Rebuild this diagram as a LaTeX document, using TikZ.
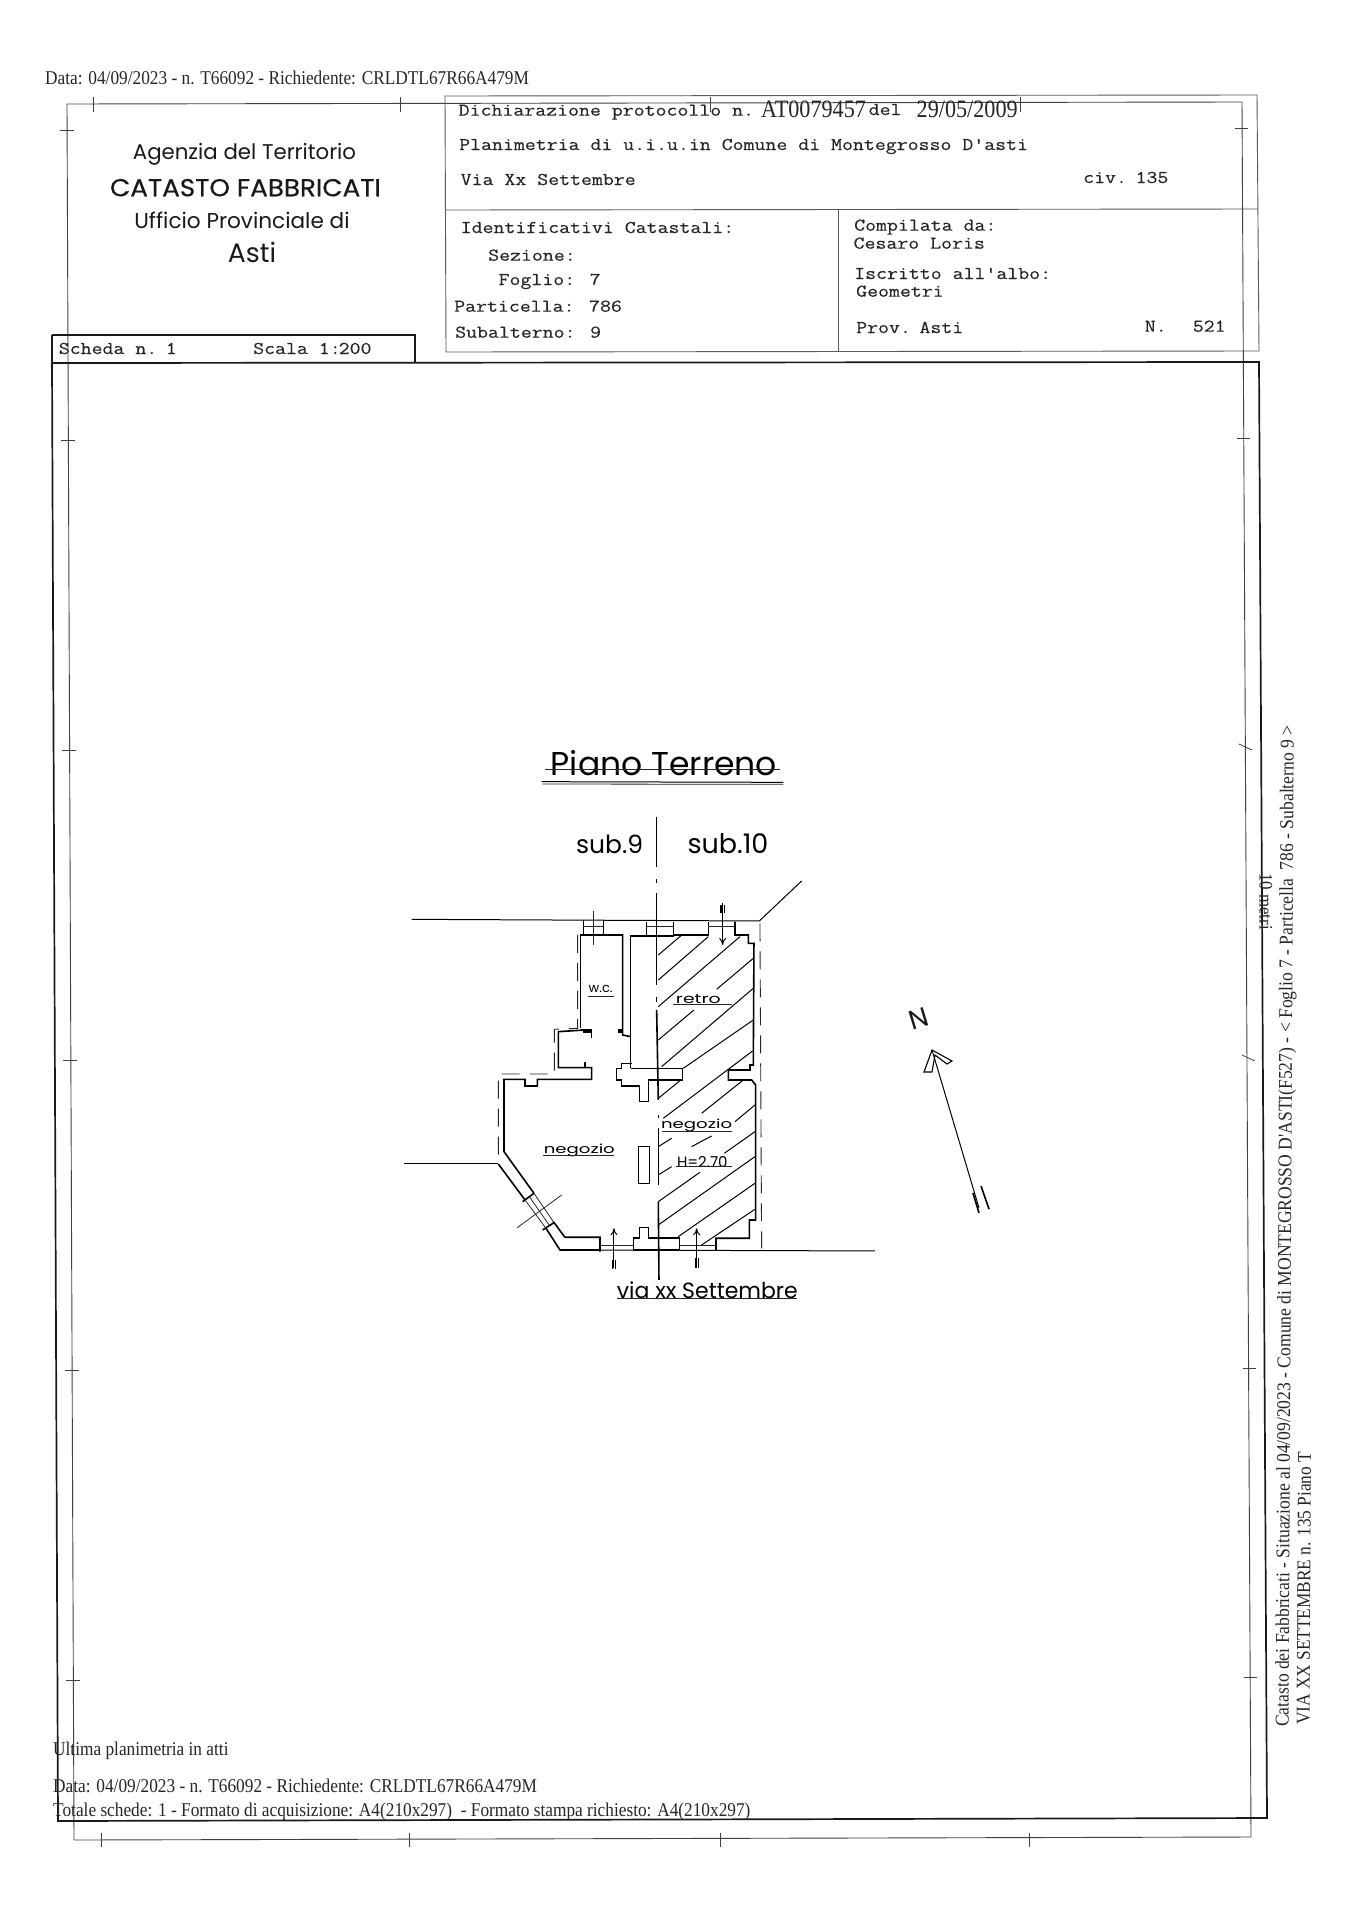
\documentclass[tikz,border=0pt]{standalone}
\usepackage{fontspec}
\usetikzlibrary{arrows.meta}
\newfontfamily\scanserif[FakeStretch=0.887]{Liberation Serif}
\newfontfamily\scanside[FakeStretch=0.9]{Liberation Serif}
\newfontfamily\scanmono[FakeStretch=1.18,FakeBold=0.25]{Latin Modern Mono}
\newfontfamily\scangothic{Poppins}
\newfontfamily\scangothicbold[FakeStretch=1.07,FakeBold=0.5]{Poppins}
\newfontfamily\scanhand{Poppins}
\newfontfamily\scanhandwide[FakeStretch=1.45]{Poppins}
\tikzset{
	sheet/.style={line width=0.9pt, black!75},
	boldframe/.style={line width=1.7pt, black!90},
	headline/.style={line width=0.9pt, black!65},
	sheettick/.style={line width=0.8pt, black!75},
	monotext/.style={anchor=west, inner sep=0pt, text height=10pt, text depth=0pt, font=\scanmono\fontsize{18}{18}\selectfont, black!85},
	serifmain/.style={anchor=west, inner sep=0pt, text height=11pt, text depth=0pt, font=\scanserif\fontsize{19.5}{19.5}\selectfont, black!85},
	gothictext/.style={inner sep=0pt, black!90},
	handtext/.style={inner sep=0pt, black, font=\scanhand\fontsize{15}{15}\selectfont},
	handwide/.style={inner sep=0pt, black, font=\scanhandwide\fontsize{12.5}{12.5}\selectfont},
	wall/.style={line width=1.6pt, black, line join=miter},
	thinwall/.style={line width=0.8pt, black!85},
	doorarrow/.style={line width=1pt, black, arrows=-{To[length=7pt,width=7pt]}},
	hatch/.style={line width=1pt, black},
	boundary/.style={line width=0.9pt, black!85, dash pattern=on 18pt off 10pt},
}
\begin{document}
\begin{tikzpicture}[x=1pt, y=-1pt]
	\useasboundingbox (0,0) rectangle (1358,1920);
	\draw [sheet] (67,104) -- (1242,102) -- (1251,1837) -- (74,1840) -- cycle;
	\draw [boldframe] (52,335) -- (415,335) -- (415,363);
	\draw [boldframe] (52,335) -- (52,363) -- (1259,362) -- (1267,1818) -- (58,1821) -- (52,363);
	\draw [headline] (445,96) -- (1257,95) -- (1259,351) -- (446,352) -- cycle;
	\draw [headline] (445,210) -- (1258,209);
	\draw [headline] (838,209) -- (838,351);
	% ticks of the sheet
	\foreach \px in {93,400,710,1020} \draw [sheettick] (\px,97) -- (\px,112);
	\foreach \px in {101,409,720,1029} \draw [sheettick] (\px,1833) -- (\px,1847);
	\foreach \py/\ox in {130/0,440/1,750/2,1060/3,1370/5,1680/6} \draw [sheettick] (60+\ox,\py) -- (74+\ox,\py);
	\foreach \py/\rx in {128/1235,438/1237,1368/1243,1677/1244} \draw [sheettick] (\rx,\py) -- (\rx+13,\py);
	\foreach \py/\rx in {747/1239,1058/1242} \draw [sheettick] (\rx,\py-3) -- (\rx+13,\py+3);

	\node [serifmain] (datatop) at (45,79) {Data: 04/09/2023 - n. T66092 - Richiedente: CRLDTL67R66A479M};
	\node [gothictext, font=\scangothic\fontsize{21.3}{21.3}\selectfont] (agenzia) at (244.5,154.5) {Agenzia del Territorio};
	\node [gothictext, font=\scangothicbold\fontsize{24.5}{24.5}\selectfont] (catasto) at (245.5,187.7) {CATASTO FABBRICATI};
	\node [gothictext, font=\scangothic\fontsize{21.6}{21.6}\selectfont] (ufficio) at (242,220) {Ufficio Provinciale di};
	\node [gothictext, font=\scangothic\fontsize{26.7}{26.7}\selectfont] (asti) at (252,252) {Asti};

	\node [monotext] (dichiarazione) at (458.5,110.7) {Dichiarazione protocollo n.};
	\node [serifmain, font=\scanserif\fontsize{25}{25}\selectfont] (protocollo) at (761,112) {AT0079457};
	\node [monotext] (del) at (868.5,110) {del};
	\node [serifmain, font=\scanserif\fontsize{25}{25}\selectfont] (datadel) at (916.5,112) {29/05/2009};
	\node [monotext] (planimetria) at (459,145) {Planimetria di u.i.u.in Comune di Montegrosso D'asti};
	\node [monotext] (via) at (460.5,180) {Via Xx Settembre};
	\node [monotext] (civ) at (1083,178) {civ.\hspace{-6pt} 135};
	\node [monotext] (identificativi) at (460.5,228) {Identificativi Catastali:};
	\node [monotext] (sezione) at (488,255.7) {Sezione:};
	\node [monotext] (foglio) at (498.4,280) {Foglio: 7};
	\node [monotext] (particella) at (454,306.7) {Particella: 786};
	\node [monotext] (subalterno) at (455,332.7) {Subalterno: 9};
	\node [monotext] (scheda) at (58.6,349) {Scheda n.\hspace{-6pt} 1};
	\node [monotext] (scala) at (253,349) {Scala 1:\hspace{-2pt}200};
	\node [monotext] (compilata) at (854,225.7) {Compilata da:};
	\node [monotext] (cesaro) at (853.4,243.7) {Cesaro Loris};
	\node [monotext] (iscritto) at (854,274) {Iscritto all'albo:};
	\node [monotext] (geometri) at (856,291.7) {Geometri};
	\node [monotext] (prov) at (856,328) {Prov.\hspace{-6pt} Asti};
	\node [monotext] (numero) at (1144.6,326.7) {N.};
	\node [monotext] (albo) at (1192.6,326.7) {521};

	\node [serifmain] (ultima) at (53,1750) {Ultima planimetria in atti};
	\node [serifmain] (databottom) at (53,1786.7) {Data: 04/09/2023 - n. T66092 - Richiedente: CRLDTL67R66A479M};
	\node [serifmain] (totale) at (53,1810.7) {Totale schede: 1 - Formato di acquisizione: A4(210x297)\ \ - Formato stampa richiesto: A4(210x297)};

	\node [serifmain, anchor=west, rotate=89.7, font=\scanside\fontsize{19.5}{19.5}\selectfont] (catastoside) at (1283,1727) {Catasto dei Fabbricati - Situazione al 04/09/2023 - Comune di MONTEGROSSO D'ASTI(F527) - < Foglio 7 - Particella\ \ 786 - Subalterno 9 >};
	\node [serifmain, anchor=west, rotate=89.7] (viaside) at (1304,1725) {VIA XX SETTEMBRE n. 135 Piano T};
	\node [serifmain, anchor=west, rotate=-90, font=\scanserif\fontsize{19}{19}\selectfont] (metri) at (1265,873) {10 metri};

	% floor plan, in units of a third of a pixel
	\begin{scope}[shift={(390,720)}, x=0.3333pt, y=-0.3333pt]
	\node [handtext, font=\scanhand\fontsize{33}{33}\selectfont] (piano) at (822,128) {Piano Terreno};
	\draw [thinwall] (465,147) -- (1170,147);
	\draw [wall, line width=1pt] (455,185) -- (1180,187);
	\draw [thinwall] (458,192) -- (1180,193);
	\node [handtext, font=\scanhand\fontsize{25}{25}\selectfont] (subnove) at (659,372) {sub.9};
	\node [handtext, font=\scanhand\fontsize{27}{27}\selectfont] (subdieci) at (1014,372) {sub.10};

	% the line between the two units
	\draw [wall] (800,290) -- (800,440);
	\draw [wall] (800,478) -- (800,490);
	\draw [wall] (800,520) -- (800,795);
	\draw [wall] (800,830) -- (800,845);
	\draw [wall] (800,870) -- (805,1140);
	\draw [wall] (805,1185) -- (805,1195);
	\draw [wall] (805,1225) -- (805,1395);
	\draw [wall] (805,1445) -- (807,1680);

	% streets
	\draw [wall, line width=1pt] (65,598) -- (1108,603) -- (1235,483);
	\draw [wall, line width=1pt] (42,1332) -- (325,1332);
	\draw [wall, line width=1pt] (510,1590) -- (1455,1593);

	% left unit
	\draw [wall] (572,925) -- (572,645) -- (580,645) -- (580,600);
	\draw [wall] (580,645) -- (640,645) -- (640,600);
	\draw [thinwall] (580,618) -- (640,618);
	\draw [wall] (640,645) -- (698,645) -- (698,945) -- (722,950);
	\draw [thinwall] (610,572) -- (610,675);
	\draw [wall] (572,928) -- (605,928) -- (605,955);
	\draw [wall] (585,930) -- (505,935) -- (505,1043) -- (605,1043) -- (605,1078) -- (442,1078) -- (442,1098) -- (405,1098) -- (405,1078) -- (342,1078) -- (342,1295) -- (432,1420);
	\draw [wall] (585,1043) -- (585,1025);
	\fill [black] (580,930) rectangle (605,940);
	\fill [black] (685,928) rectangle (698,940);
	\draw [wall] (325,1332) -- (405,1440);
	\draw [wall] (490,1505) -- (525,1552) -- (630,1552) -- (630,1595);
	\draw [wall] (468,1525) -- (510,1590) -- (630,1590);
	\draw [wall] (398,1445) -- (432,1420);
	\draw [wall] (458,1530) -- (492,1508);
	\draw [thinwall] (405,1440) -- (468,1525);
	\draw [thinwall] (418,1430) -- (478,1516);
	\draw [thinwall] (432,1420) -- (490,1505);
	\draw [thinwall] (382,1523) -- (515,1425);
	\draw [thinwall] (630,1576) -- (730,1576);
	\draw [wall] (745,1280) rectangle (778,1390);

	% right unit and shared piers
	\draw [wall] (722,1045) -- (722,648) -- (770,648) -- (770,605);
	\draw [wall] (770,648) -- (850,648) -- (850,605);
	\draw [thinwall] (770,620) -- (850,620);
	\draw [wall] (850,645) -- (955,645) -- (955,605);
	\draw [thinwall] (955,620) -- (1035,620);
	\draw [wall] (1035,605) -- (1035,645) -- (1075,645) -- (1075,670) -- (1092,670) -- (1090,1035) -- (1080,1035) -- (1080,1050) -- (1015,1050) -- (1015,1080) -- (1085,1080) -- (1097,1095) -- (1097,1500) -- (1078,1500) -- (1078,1555) -- (978,1555) -- (978,1593);
	\draw [wall] (725,1030) -- (695,1030) -- (695,1045) -- (680,1045) -- (680,1080) -- (695,1080) -- (695,1098) -- (748,1098) -- (748,1145) -- (775,1145) -- (775,1080) -- (878,1080) -- (878,1045) -- (722,1045);
	\draw [wall] (730,1590) -- (730,1555) -- (748,1555) -- (748,1523) -- (775,1523) -- (775,1555) -- (868,1555) -- (868,1590) -- cycle;
	\draw [thinwall] (868,1575) -- (978,1575);

	% boundary of the property
	\draw [boundary] (1110,610) -- (1115,1585);
	\draw [boundary] (563,645) -- (563,925) -- (493,928) -- (493,1062) -- (325,1062) -- (325,1330);

	% hatching of sub 10
	\draw [hatch] (805,705) -- (872,648);
	\draw [hatch] (805,780) -- (955,650);
	\draw [hatch] (805,860) -- (1050,650);
	\draw [hatch] (805,960) -- (912,870);
	\draw [hatch] (980,808) -- (1090,715);
	\draw [hatch] (815,1040) -- (1090,805);
	\draw [hatch] (880,1045) -- (1090,900);
	\draw [hatch] (805,1135) -- (870,1082);
	\draw [hatch] (820,1195) -- (1088,993);
	\draw [hatch] (935,1180) -- (1060,1080);
	\draw [hatch] (805,1280) -- (845,1255);
	\draw [hatch] (905,1280) -- (965,1248);
	\draw [hatch] (1035,1205) -- (1095,1155);
	\draw [hatch] (1003,1300) -- (1095,1235);
	\draw [hatch] (805,1365) -- (845,1340);
	\draw [hatch] (805,1445) -- (930,1357);
	\draw [hatch] (805,1515) -- (1095,1310);
	\draw [hatch] (865,1550) -- (1095,1390);
	\draw [hatch] (935,1575) -- (1095,1468);

	% door arrows
	\draw [doorarrow] (998,550) -- (998,675);
	\draw [wall] (993,555) -- (993,580);
	\draw [wall] (1004,555) -- (1004,580);
	\draw [doorarrow] (672,1645) -- (672,1525);
	\draw [wall] (668,1620) -- (668,1648);
	\draw [wall] (677,1620) -- (677,1648);
	\draw [doorarrow] (920,1645) -- (920,1525);
	\draw [wall] (916,1615) -- (916,1645);
	\draw [wall] (925,1615) -- (925,1645);

	\node [handtext, font=\scanhand\fontsize{13}{13}\selectfont] (wc) at (632,806) {w.c.};
	\draw [thinwall] (594,828) -- (672,828);
	\node [handwide, font=\scanhandwide\fontsize{13}{13}\selectfont] (retro) at (925,836) {retro};
	\draw [thinwall] (850,853) -- (1025,853);
	\node [handwide] (negoziosx) at (568,1292) {negozio};
	\draw [thinwall] (458,1305) -- (672,1305);
	\node [handwide] (negoziodx) at (920,1217) {negozio};
	\draw [thinwall] (815,1233) -- (1025,1233);
	\node [handtext] (altezza) at (937,1325) {H=2.70};
	\draw [thinwall] (858,1340) -- (1025,1340);
	\node [handtext, font=\scanhand\fontsize{22}{22}\selectfont] (viaxx) at (952,1710) {via xx Settembre};
	\draw [thinwall] (682,1735) -- (1220,1735);
	\end{scope}

	% north arrow
	\coordinate (northtail) at (979,1208);
	\coordinate (northhead) at (932,1050);
	\draw [wall, line width=1pt] (northtail) -- (northhead);
	\draw [wall, line width=1.1pt] (northhead) -- (924,1072) -- (932,1072) -- (935,1055) -- (947,1064) -- (952,1061) -- cycle;
	\draw [wall] (973,1193) -- (979,1213);
	\draw [wall] (981,1186) -- (989,1209);
	\node [gothictext, rotate=17, font=\scanhand\fontsize{27}{27}\selectfont] (north) at (919,1019) {N};
\end{tikzpicture}
\end{document}
